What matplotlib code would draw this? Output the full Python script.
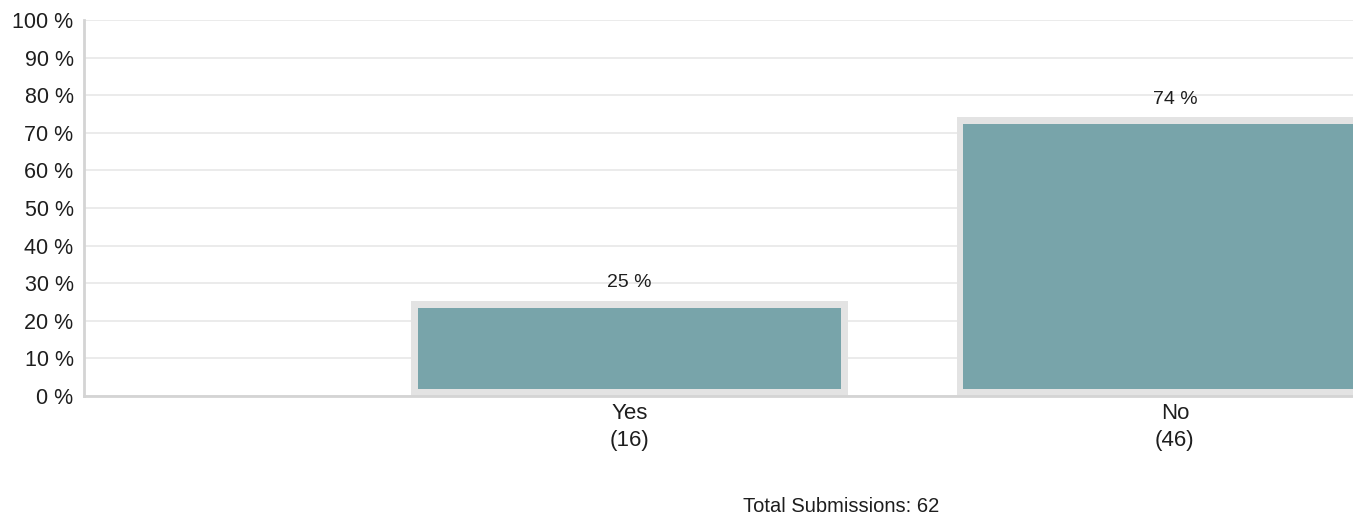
import numpy as np
import matplotlib.pyplot as plt
from matplotlib import rcParams

rcParams["font.family"] = ["Liberation Sans", "DejaVu Sans"]

# data
categories = ["Yes", "No"]
counts = [16, 46]
percents = [25, 74]          # labels shown above bars
bar_heights = [25.3, 74.1]   # drawn heights (%)
total = 62
yticks = np.arange(0, 101, 10)

teal = "#78a4aa"
frame = "#e3e3e3"
txt = "#1e1e1e"

fig = plt.figure(figsize=(13.53, 5.2), dpi=100)
ax = fig.add_axes([84/1353, 124/520, 1 - 84/1353, 376/520])

x = np.arange(1, len(categories) + 1)
w = 0.8
dx, dy = 0.012, 1.8  # inset of the coloured bar inside its grey frame

ax.bar(x, bar_heights, width=w, color=frame, zorder=2)
ax.bar(x, np.array(bar_heights) - 2*dy, bottom=dy, width=w - 2*dx, color=teal, zorder=3)

for xi, h, p in zip(x, bar_heights, percents):
    ax.annotate("{} %".format(p), (xi, h), xytext=(0, 13), textcoords="offset points",
                ha="center", va="center", fontsize=14, color=txt)

ax.set_xlim(0, (1353 - 85) / 545)
ax.set_ylim(0, 100)
ax.set_yticks(yticks)
ax.set_yticklabels(["{} %".format(t) for t in yticks], fontsize=15.5, color=txt)
ax.set_xticks(x)
ax.set_xticklabels(["{}\n({})".format(c, n) for c, n in zip(categories, counts)],
                   fontsize=16, color=txt, linespacing=1.4)
ax.tick_params(axis="both", length=0)
ax.tick_params(axis="y", pad=7.5)
ax.tick_params(axis="x", pad=5)

ax.grid(axis="y", color="#e8e8e8", linewidth=1.2, zorder=0)
ax.set_axisbelow(True)
for s in ["top", "right"]:
    ax.spines[s].set_visible(False)
for s in ["left", "bottom"]:
    ax.spines[s].set_color("#d4d4d4")
    ax.spines[s].set_linewidth(2)

fig.text(841/1353, 1 - 506/520, "Total Submissions: {}".format(total),
         ha="center", va="center", fontsize=14.5, color=txt)

plt.savefig("out.png", dpi=100)
